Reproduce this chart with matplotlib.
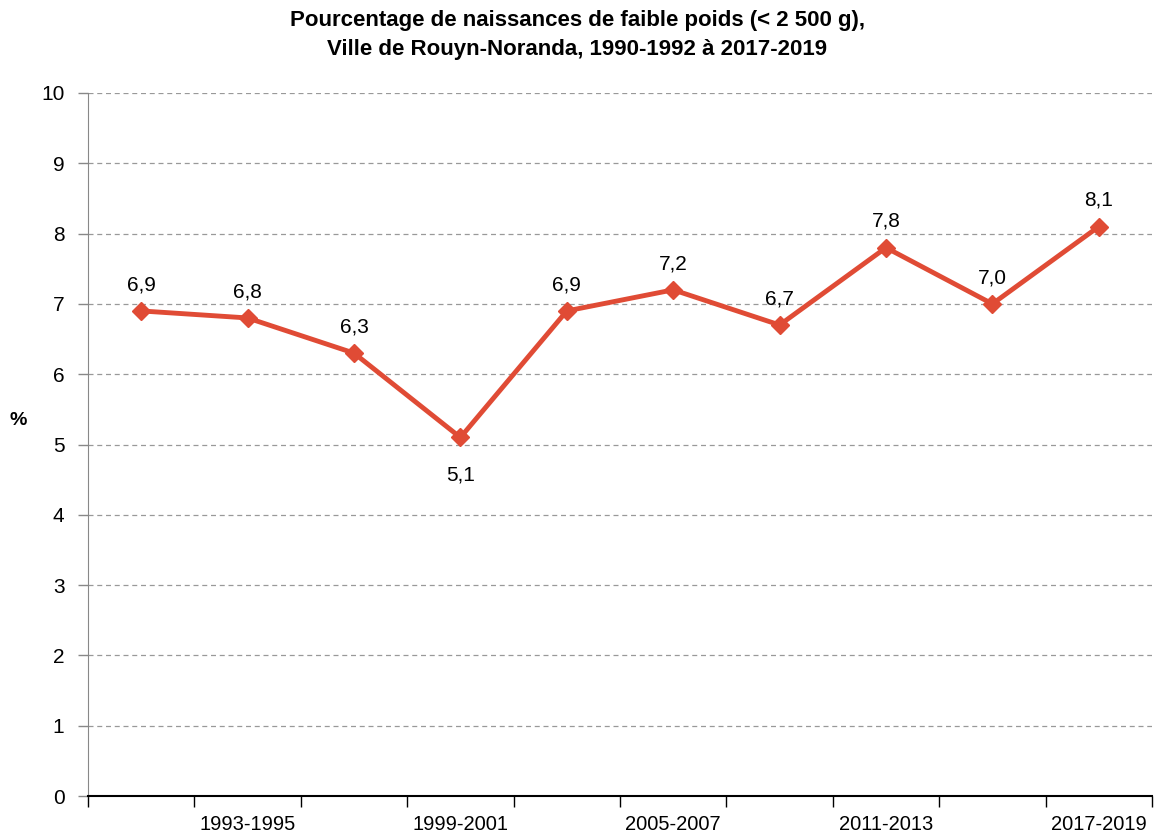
import matplotlib
matplotlib.use("Agg")
import matplotlib.pyplot as plt
from matplotlib import font_manager

periods = ["1990-1992", "1993-1995", "1996-1998", "1999-2001", "2002-2004",
           "2005-2007", "2008-2010", "2011-2013", "2014-2016", "2017-2019"]
values = [6.9, 6.8, 6.3, 5.1, 6.9, 7.2, 6.7, 7.8, 7.0, 8.1]
labels = ["6,9", "6,8", "6,3", "5,1", "6,9", "7,2", "6,7", "7,8", "7,0", "8,1"]
yticks = list(range(0, 11))

names = {f.name for f in font_manager.fontManager.ttflist}
fam = "Liberation Sans Narrow" if "Liberation Sans Narrow" in names else "Liberation Sans"
plt.rcParams['font.family'] = [fam, 'DejaVu Sans']

fig = plt.figure(figsize=(11.54, 8.39), dpi=100)
ax = fig.add_axes([88/1154, 1-796/839, (1152-88)/1154, (796-93)/839])

color = "#E04B35"
x = list(range(len(values)))
ax.plot(x, values, color=color, lw=3.5, marker="D", ms=9, mec=color, mfc=color, zorder=3)

for xi, v, lab in zip(x, values, labels):
    if lab == "5,1":
        ax.annotate(lab, (xi, v), xytext=(0, -20), textcoords="offset points",
                    ha="center", va="top", fontsize=15)
    else:
        ax.annotate(lab, (xi, v), xytext=(0, 12), textcoords="offset points",
                    ha="center", va="bottom", fontsize=15)

ax.set_xlim(-0.5, len(values) - 0.5)
ax.set_ylim(0, 10)
ax.set_yticks(yticks)
ax.set_yticklabels([str(t) for t in yticks], fontsize=15)
ax.yaxis.grid(True, linestyle=(0, (4, 3)), color="#999999", lw=0.9)
ax.set_axisbelow(True)

ax.set_xticks([i - 0.5 for i in range(len(values) + 1)])
ax.set_xticklabels([])
ax.set_xticks(x[1::2], minor=True)
ax.set_xticklabels(periods[1::2], minor=True, fontsize=14.5)
ax.tick_params(axis="x", which="major", length=8, direction="out", color="black", width=1)
ax.tick_params(axis="x", which="minor", length=0, pad=14)
ax.tick_params(axis="y", length=7, width=1, color="#888888", pad=10)

for s in ["top", "right"]:
    ax.spines[s].set_visible(False)
ax.spines["left"].set_color("#888888")
ax.spines["bottom"].set_color("black")
ax.spines["bottom"].set_linewidth(1.5)

fig.text(18/1154, 1-420/839, "%", fontsize=14, fontweight="bold", ha="center", va="center")
fig.text(577/1154, 1-35/839,
         "Pourcentage de naissances de faible poids (< 2 500 g),\nVille de Rouyn-Noranda, 1990-1992 à 2017-2019",
         fontsize=16, fontweight="bold", ha="center", va="center", linespacing=1.45)

fig.savefig("out.png", dpi=100, facecolor="white")
